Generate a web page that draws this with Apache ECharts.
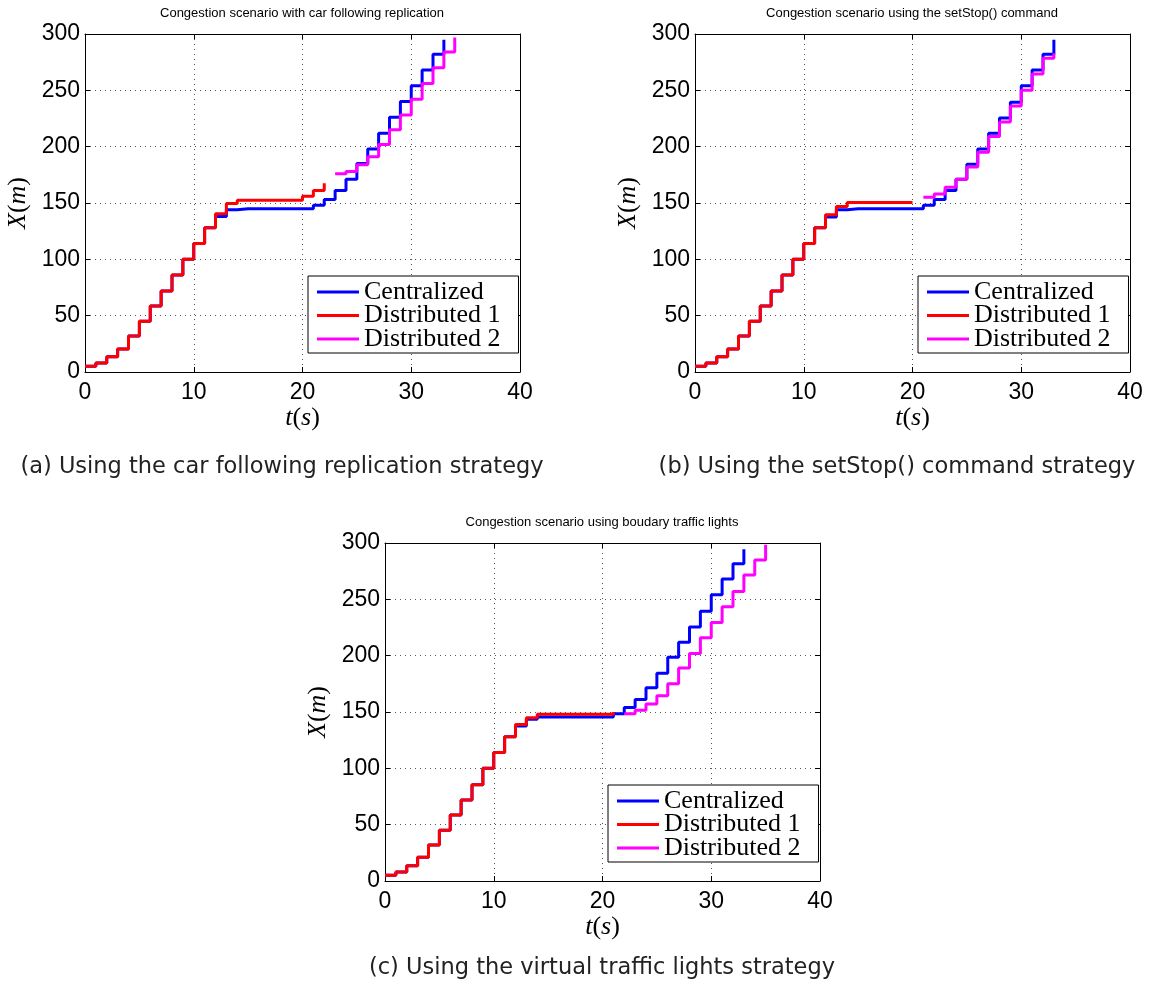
<!DOCTYPE html>
<html><head><meta charset="utf-8">
<script src="https://cdn.jsdelivr.net/npm/echarts@6/dist/echarts.min.js"></script>
<style>html,body{margin:0;padding:0;background:#fff}#c{width:1155px;height:988px}</style>
</head><body><div id="c"></div><script>
// ---------- data ----------
const seconds = [0,1,2,3,4,5,6,7,8,9,10,11,12,13,14,15,16,17,18,19,20,21,22,23,24,25,26,27,28,29,30,31,32,33,34,35];
const xTickValues = [0, 10, 20, 30, 40];
const yTickValues = [0, 50, 100, 150, 200, 250, 300];
const seriesNames = ['Centralized', 'Distributed 1', 'Distributed 2'];

const panelTitles = [
  'Congestion scenario with car following replication',
  'Congestion scenario using the setStop() command',
  'Congestion scenario using boudary traffic lights'
];
const panelCaptions = [
  '(a) Using the car following replication strategy',
  '(b) Using the setStop() command strategy',
  '(c) Using the virtual traffic lights strategy'
];

// (a) car following replication
const aCentralizedStart = 0;
const aCentralized = [5,8,13.5,20.5,32,45,58.5,72,86,100,114,128,138,144,145,145,145,145,145,145,145,148,153,161,171,185,198,212,226,240,254,268,282,295];
const aDistributed1Start = 0;
const aDistributed1 = [5,8,13.5,20.5,32,45,58.5,72,86,100,114,128,140.5,149.5,152.5,152.5,152.5,152.5,152.5,152.5,156,161,167.5];
const aDistributed2Start = 23;
const aDistributed2 = [176,178,184,191,202,215,228,242,256,270,284,297];

// (b) setStop() command
const bCentralizedStart = 0;
const bCentralized = [5,8,13.5,20.5,32,45,58.5,72,86,100,114,128,137.5,144,145,145,145,145,145,145,145,148,153,161,171,184.5,198,212,225.5,239.5,254,268,282,295];
const bDistributed1Start = 0;
const bDistributed1 = [5,8,13.5,20.5,32,45,58.5,72,86,100,114,128,139.5,147,150.5,150.5,150.5,150.5,150.5,150.5,150.5];
const bDistributed2Start = 21;
const bDistributed2 = [155,158,164,171,182,195,209,222,236,250,264.5,278.5,283];

// (c) virtual traffic lights
const cCentralizedStart = 0;
const cCentralized = [5,8,13.5,21,32,45,58.5,72,85.5,100,114,128,137.5,143.5,145.5,145.5,145.5,145.5,145.5,145.5,145.5,148.5,154,161,171.5,184.5,198.5,212,225.5,239.5,254,268,281.5,294.5];
const cDistributed1Start = 0;
const cDistributed1 = [5,8,13.5,21,32,45,58.5,72,85.5,100,114,128,139,145,148,148,148,148,148,148,148,150];
const cDistributed2Start = 22;
const cDistributed2 = [148.5,151.5,157,164.5,175,189,202,216,229.5,243.5,257,271.5,285,298.5];

// ---------- layout / style ----------
const colors = ['#0000ff', '#ff0000', '#ff00ff'];
const panels = [
  { grid: {left: 85, top: 34, width: 435, height: 338}, legend: {left: 308, top: 276},
    titlePos: [302, 13], captionPos: [282, 467],
    series: [[aCentralizedStart, aCentralized], [aDistributed1Start, aDistributed1], [aDistributed2Start, aDistributed2]] },
  { grid: {left: 695, top: 34, width: 435, height: 338}, legend: {left: 918, top: 276},
    titlePos: [912, 13], captionPos: [897, 467],
    series: [[bCentralizedStart, bCentralized], [bDistributed1Start, bDistributed1], [bDistributed2Start, bDistributed2]] },
  { grid: {left: 385, top: 543, width: 435, height: 338}, legend: {left: 608, top: 785},
    titlePos: [602, 522], captionPos: [602, 968],
    series: [[cCentralizedStart, cCentralized], [cDistributed1Start, cDistributed1], [cDistributed2Start, cDistributed2]] }
];

const tickFont = 'Liberation Sans, Arial, sans-serif';
const mathRich = {
  i: {fontFamily: 'Liberation Serif', fontStyle: 'italic', fontSize: 26, color: '#000'},
  n: {fontFamily: 'Liberation Serif', fontSize: 26, color: '#000'}
};

const grids = [], xAxes = [], yAxes = [], series = [], legends = [], graphics = [];
panels.forEach((p, gi) => {
  grids.push(Object.assign({containLabel: false}, p.grid));
  const xMin = xTickValues[0], xMax = xTickValues[xTickValues.length - 1];
  const yMin = yTickValues[0], yMax = yTickValues[yTickValues.length - 1];
  const xInt = xTickValues[1] - xTickValues[0], yInt = yTickValues[1] - yTickValues[0];
  const lineCol = {color: '#000', width: 1};
  xAxes.push({
    gridIndex: gi, type: 'value', position: 'bottom', min: xMin, max: xMax, interval: xInt,
    axisLine: {show: true, onZero: false, lineStyle: lineCol},
    axisTick: {show: true, inside: true, length: 5, lineStyle: lineCol},
    axisLabel: {fontSize: 23, color: '#000', fontFamily: tickFont, margin: 9},
    splitLine: {show: true, lineStyle: {color: '#555', width: 1, type: [1, 4]}},
    name: '{i|t}{n|(}{i|s}{n|)}', nameLocation: 'middle', nameGap: 31,
    nameTextStyle: {rich: mathRich}
  });
  xAxes.push({
    gridIndex: gi, type: 'value', position: 'top', min: xMin, max: xMax, interval: xInt,
    axisLine: {show: true, onZero: false, lineStyle: lineCol},
    axisTick: {show: true, inside: true, length: 5, lineStyle: lineCol},
    axisLabel: {show: false}, splitLine: {show: false}
  });
  yAxes.push({
    gridIndex: gi, type: 'value', position: 'left', min: yMin, max: yMax, interval: yInt,
    axisLine: {show: true, onZero: false, lineStyle: lineCol},
    axisTick: {show: true, inside: true, length: 5, lineStyle: lineCol},
    axisLabel: {fontSize: 23, color: '#000', fontFamily: tickFont, margin: 5},
    splitLine: {show: true, lineStyle: {color: '#555', width: 1, type: [1, 4]}},
    name: '{i|X}{n|(}{i|m}{n|)}', nameLocation: 'middle', nameGap: 54,
    nameTextStyle: {rich: mathRich}
  });
  yAxes.push({
    gridIndex: gi, type: 'value', position: 'right', min: yMin, max: yMax, interval: yInt,
    axisLine: {show: true, onZero: false, lineStyle: lineCol},
    axisTick: {show: true, inside: true, length: 5, lineStyle: lineCol},
    axisLabel: {show: false}, splitLine: {show: false}
  });
  p.series.forEach(([start, vals], si) => {
    series.push({
      type: 'line', name: seriesNames[si], step: 'end',
      xAxisIndex: gi * 2, yAxisIndex: gi * 2,
      showSymbol: false, symbol: 'none', animation: false, z: 2 + si,
      color: colors[si],
      lineStyle: {color: colors[si], width: 3},
      data: vals.map((v, k) => [seconds[start + k], v])
    });
  });
  legends.push({
    left: p.legend.left, top: p.legend.top, orient: 'vertical',
    data: seriesNames, selectedMode: false,
    icon: 'rect', itemWidth: 42, itemHeight: 3, itemGap: -2.5,
    padding: [3, 18, 1, 9],
    borderColor: '#000', borderWidth: 1, backgroundColor: '#fff',
    textStyle: {fontFamily: 'Liberation Serif', fontSize: 26, color: '#000'}
  });
  graphics.push({
    type: 'text', x: p.titlePos[0], y: p.titlePos[1],
    style: {text: panelTitles[gi], font: '13px "Liberation Sans", Arial, sans-serif',
            fill: '#000', textAlign: 'center', textVerticalAlign: 'middle'}
  });
  graphics.push({
    type: 'text', x: p.captionPos[0], y: p.captionPos[1],
    style: {text: panelCaptions[gi], font: '22.5px "DejaVu Sans", sans-serif',
            fill: '#222', textAlign: 'center', textVerticalAlign: 'middle'}
  });
});

const chart = echarts.init(document.getElementById('c'), null, {renderer: 'canvas'});
chart.setOption({
  backgroundColor: '#fff',
  animation: false,
  grid: grids, xAxis: xAxes, yAxis: yAxes, series: series,
  legend: legends, graphic: graphics
});
</script></body></html>
